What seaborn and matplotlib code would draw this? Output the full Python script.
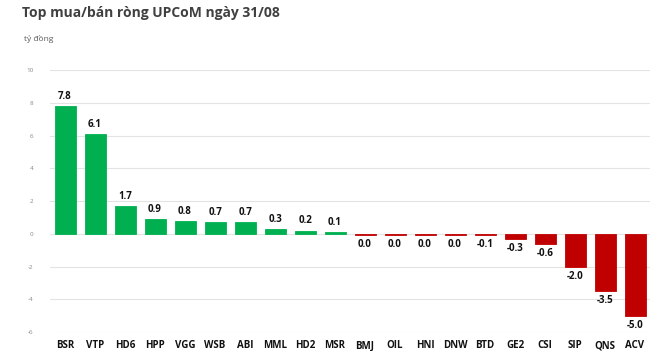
import pandas as pd
import numpy as np
import matplotlib.pyplot as plt
import seaborn as sns

# --- Data ---
tickers = ["BSR", "VTP", "HD6", "HPP", "VGG", "WSB", "ABI", "MML", "HD2", "MSR",
           "BMJ", "OIL", "HNI", "DNW", "BTD", "GE2", "CSI", "SIP", "QNS", "ACV"]
net_values = [7.8, 6.1, 1.7, 0.9, 0.8, 0.7, 0.7, 0.3, 0.2, 0.1,
              -0.049, -0.049, -0.049, -0.049, -0.06, -0.3, -0.6, -2.0, -3.5, -5.0]
y_ticks = [-6, -4, -2, 0, 2, 4, 6, 8, 10]

GREEN = "#00B050"
RED = "#C00000"


def fmt(v):
    s = f"{v:.1f}"
    return "0.0" if s == "-0.0" else s


df = pd.DataFrame({"ticker": tickers, "value": net_values})
colors = [GREEN if v > 0 else RED for v in df["value"]]

sns.set_style("white")
plt.rcParams['font.family'] = ['Open Sans', 'DejaVu Sans']

fig = plt.figure(figsize=(6.5, 3.51), dpi=100)
ax = fig.add_axes([0.077, 0.054, 0.923, 0.746])

sns.barplot(data=df, x="ticker", y="value", hue="ticker", palette=colors,
            legend=False, width=0.7, saturation=1, ax=ax)
# thin same-colour outline so the tiny bars still show
for bar, c in zip(ax.patches, colors):
    bar.set_edgecolor(c)
    bar.set_linewidth(0.6)

for i, v in enumerate(df["value"]):
    if v > 0:
        ax.annotate(fmt(v), (i, v), xytext=(0, 3), textcoords="offset points",
                    ha="center", va="bottom", fontsize=7, fontweight="bold",
                    color="#111111")
    else:
        ax.annotate(fmt(v), (i, v), xytext=(0, -3), textcoords="offset points",
                    ha="center", va="top", fontsize=7, fontweight="bold",
                    color="#111111")

ax.set_ylim(-6, 10)
ax.set_xlim(-0.5, len(tickers) - 0.5)
ax.set_yticks(y_ticks)
ax.set_yticklabels([str(t) for t in y_ticks], fontsize=4.5, color="#888888")
ax.tick_params(axis="x", labelsize=7, colors="#111111", length=0, pad=6)
ax.tick_params(axis="y", length=0, pad=12)
for lbl in ax.get_xticklabels():
    lbl.set_fontweight("bold")
ax.set_xlabel("")
ax.set_ylabel("")
ax.yaxis.grid(True, color="#E3E3E3", linewidth=0.8)
ax.set_axisbelow(True)
sns.despine(ax=ax, left=True, bottom=True)

fig.text(0.034, 0.962, "Top mua/bán ròng UPCoM ngày 31/08", fontsize=10,
         fontweight="bold", color="#404040", ha="left", va="center")
fig.text(0.037, 0.89, "tỷ đồng", fontsize=6, color="#595959", ha="left", va="center")

fig.savefig("out.png", dpi=100)
